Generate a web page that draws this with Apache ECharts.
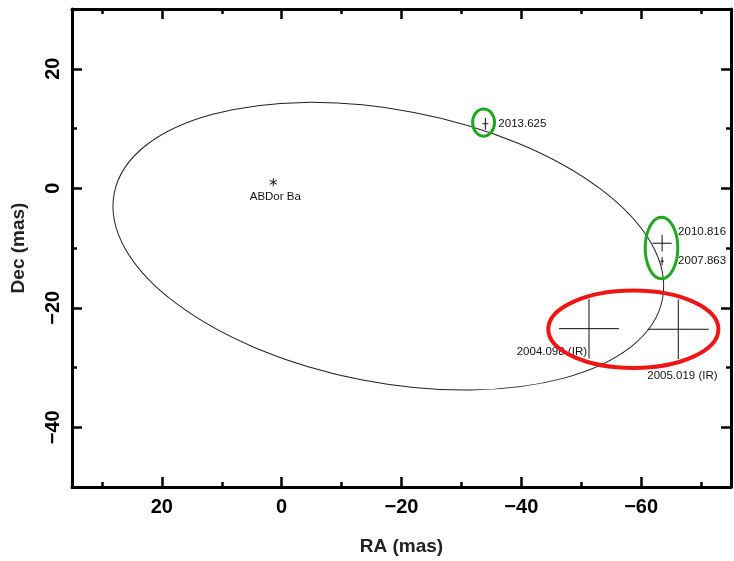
<!DOCTYPE html>
<html>
<head>
<meta charset="utf-8">
<title>AB Dor Ba orbit</title>
<script src="https://cdn.jsdelivr.net/npm/echarts@6/dist/echarts.min.js"></script>
<style>
  html, body { margin: 0; padding: 0; background: #fff; }
  #chart { width: 734px; height: 561px; }
</style>
</head>
<body>
<div id="chart"></div>
<script>
// Plot ranges (mas); RA grows to the left
const raRange = [-75, 35];
const decRange = [-50, 30];

// Relative astrometry of the companion
const epochLabels = ['2004.098 (IR)', '2005.019 (IR)', '2007.863', '2010.816', '2013.625'];
const epochRa = [-51.3, -66.2, -63.5, -63.5, -34.0];
const epochDec = [-23.5, -23.6, -12.2, -9.2, 10.8];
const epochErrRa = [5.0, 5.1, 0.3, 1.6, 0.5];
const epochErrDec = [5.0, 5.0, 0.7, 1.4, 1.0];

// Primary star
const primaryLabel = 'ABDor Ba';
const primaryRa = 1.4;
const primaryDec = 1.0;

// Orbit ellipse: centre, semi-axes (mas), tilt of the major axis (deg, clockwise on the page)
const orbitCentre = [-17.8, -9.7];
const orbitSemiAxes = [46.6, 22.8];
const orbitTilt = 10.9;

// Highlight rings: centre RA, centre Dec, half width, half height (mas)
const greenRingRa = [-33.7, -63.4];
const greenRingDec = [11.0, -10.0];
const greenRingRx = [1.83, 2.72];
const greenRingRy = [2.28, 5.13];
const redRingRa = [-58.7];
const redRingDec = [-23.6];
const redRingRx = [14.2];
const redRingRy = [6.47];

// Label placement for each epoch (pixel offsets from the point)
const labelPlacement = [
  { dx: -2, dy: 23, align: 'right' },
  { dx: -31, dy: 47, align: 'left' },
  { dx: 16, dy: 0, align: 'left' },
  { dx: 16, dy: -11, align: 'left' },
  { dx: 13, dy: 0, align: 'left' }
];

const FONT = '"Liberation Sans", Arial, Helvetica, sans-serif';
const INK = '#000';
const toMinus = v => String(v).replace('-', '\u2212');

function xAxisDef(position, major) {
  const ax = {
    type: 'value', gridIndex: 0, position: position,
    min: raRange[0], max: raRange[1], inverse: true,
    splitNumber: major ? 5 : 11,
    axisLine: { show: major, onZero: false, lineStyle: { color: '#000', width: 3 } },
    axisTick: { show: true, inside: true, length: major ? 10 : 5, lineStyle: { color: '#000', width: 2.5 } },
    axisLabel: { show: false },
    splitLine: { show: false }
  };
  if (major && position === 'bottom') {
    ax.axisLabel = {
      show: true, margin: 10, color: INK, fontFamily: FONT, fontSize: 20, fontWeight: 'bold',
      showMinLabel: false, showMaxLabel: false, formatter: toMinus
    };
    ax.name = 'RA (mas)';
    ax.nameLocation = 'middle';
    ax.nameGap = 50;
    ax.nameTextStyle = { color: '#222', fontFamily: FONT, fontSize: 19, fontWeight: 'bold' };
  }
  return ax;
}

function yAxisDef(position, major) {
  const ax = {
    type: 'value', gridIndex: 0, position: position,
    min: decRange[0], max: decRange[1],
    splitNumber: major ? 4 : 8,
    axisLine: { show: major, onZero: false, lineStyle: { color: '#000', width: 3 } },
    axisTick: { show: true, inside: true, length: major ? 10 : 5, lineStyle: { color: '#000', width: 2.5 } },
    axisLabel: { show: false },
    splitLine: { show: false }
  };
  if (major && position === 'left') {
    ax.axisLabel = {
      show: true, margin: 9, rotate: 90, color: INK, fontFamily: FONT, fontSize: 20, fontWeight: 'bold',
      showMinLabel: false, showMaxLabel: false, formatter: toMinus
    };
    ax.name = 'Dec (mas)';
    ax.nameLocation = 'middle';
    ax.nameGap = 44;
    ax.nameTextStyle = { color: '#222', fontFamily: FONT, fontSize: 19, fontWeight: 'bold' };
  }
  return ax;
}

function ringSeries(ra, dec, rx, ry, color, width) {
  return {
    type: 'custom', xAxisIndex: 0, yAxisIndex: 0, z: 5,
    encode: { x: 0, y: 1 },
    data: ra.map((v, i) => [v, dec[i], rx[i], ry[i]]),
    renderItem: function (params, api) {
      const c = api.coord([api.value(0), api.value(1)]);
      const s = api.size([api.value(2), api.value(3)], [api.value(0), api.value(1)]);
      return {
        type: 'ellipse',
        shape: { cx: c[0], cy: c[1], rx: s[0], ry: s[1] },
        style: { fill: 'none', stroke: color, lineWidth: width }
      };
    }
  };
}

const chart = echarts.init(document.getElementById('chart'), null, { renderer: 'canvas' });

chart.setOption({
  animation: false,
  backgroundColor: '#fff',
  grid: { left: 72, right: 3, top: 9, bottom: 72, containLabel: false },
  xAxis: [
    xAxisDef('bottom', true), xAxisDef('top', true),
    xAxisDef('bottom', false), xAxisDef('top', false)
  ],
  yAxis: [
    yAxisDef('left', true), yAxisDef('right', true),
    yAxisDef('left', false), yAxisDef('right', false)
  ],
  series: [
    // Fitted orbit
    {
      type: 'custom', xAxisIndex: 0, yAxisIndex: 0, z: 2,
      encode: { x: 0, y: 1 },
      data: [[orbitCentre[0], orbitCentre[1], orbitSemiAxes[0], orbitSemiAxes[1], orbitTilt]],
      renderItem: function (params, api) {
        const c = api.coord([api.value(0), api.value(1)]);
        const s = api.size([api.value(2), api.value(3)], [api.value(0), api.value(1)]);
        return {
          type: 'ellipse',
          x: c[0], y: c[1],
          rotation: -api.value(4) * Math.PI / 180,
          shape: { cx: 0, cy: 0, rx: s[0], ry: s[1] },
          style: { fill: 'none', stroke: '#222', lineWidth: 1 }
        };
      }
    },
    // Epoch positions with error bars
    {
      type: 'custom', xAxisIndex: 0, yAxisIndex: 0, z: 3,
      encode: { x: 0, y: 1 },
      data: epochRa.map((v, i) => [v, epochDec[i], epochErrRa[i], epochErrDec[i]]),
      renderItem: function (params, api) {
        const ra = api.value(0), dec = api.value(1), er = api.value(2), ed = api.value(3);
        const c = api.coord([ra, dec]);
        const l = api.coord([ra + er, dec]);
        const r = api.coord([ra - er, dec]);
        const t = api.coord([ra, dec + ed]);
        const b = api.coord([ra, dec - ed]);
        const p = labelPlacement[params.dataIndex];
        const lineStyle = { stroke: '#111', lineWidth: 1 };
        return {
          type: 'group',
          children: [
            { type: 'line', shape: { x1: l[0], y1: c[1], x2: r[0], y2: c[1] }, style: lineStyle },
            { type: 'line', shape: { x1: c[0], y1: t[1], x2: c[0], y2: b[1] }, style: lineStyle },
            {
              type: 'text', x: c[0] + p.dx, y: c[1] + p.dy,
              style: {
                text: epochLabels[params.dataIndex], fill: '#111',
                fontFamily: FONT, fontSize: 11.5, align: p.align, verticalAlign: 'middle'
              }
            }
          ]
        };
      }
    },
    // Primary star
    {
      type: 'custom', xAxisIndex: 0, yAxisIndex: 0, z: 3,
      encode: { x: 0, y: 1 },
      data: [[primaryRa, primaryDec]],
      renderItem: function (params, api) {
        const c = api.coord([api.value(0), api.value(1)]);
        const r = 4;
        const st = { stroke: '#111', lineWidth: 1 };
        const k = Math.cos(Math.PI / 6) * r, h = Math.sin(Math.PI / 6) * r;
        return {
          type: 'group',
          children: [
            { type: 'line', shape: { x1: c[0], y1: c[1] - r, x2: c[0], y2: c[1] + r }, style: st },
            { type: 'line', shape: { x1: c[0] - k, y1: c[1] - h, x2: c[0] + k, y2: c[1] + h }, style: st },
            { type: 'line', shape: { x1: c[0] - k, y1: c[1] + h, x2: c[0] + k, y2: c[1] - h }, style: st },
            {
              type: 'text', x: c[0] + 2, y: c[1] + 15,
              style: {
                text: primaryLabel, fill: '#111', fontFamily: FONT, fontSize: 11.5,
                align: 'center', verticalAlign: 'middle'
              }
            }
          ]
        };
      }
    },
    ringSeries(greenRingRa, greenRingDec, greenRingRx, greenRingRy, '#20a820', 3),
    ringSeries(redRingRa, redRingDec, redRingRx, redRingRy, '#ee1515', 4)
  ]
});
</script>
</body>
</html>
